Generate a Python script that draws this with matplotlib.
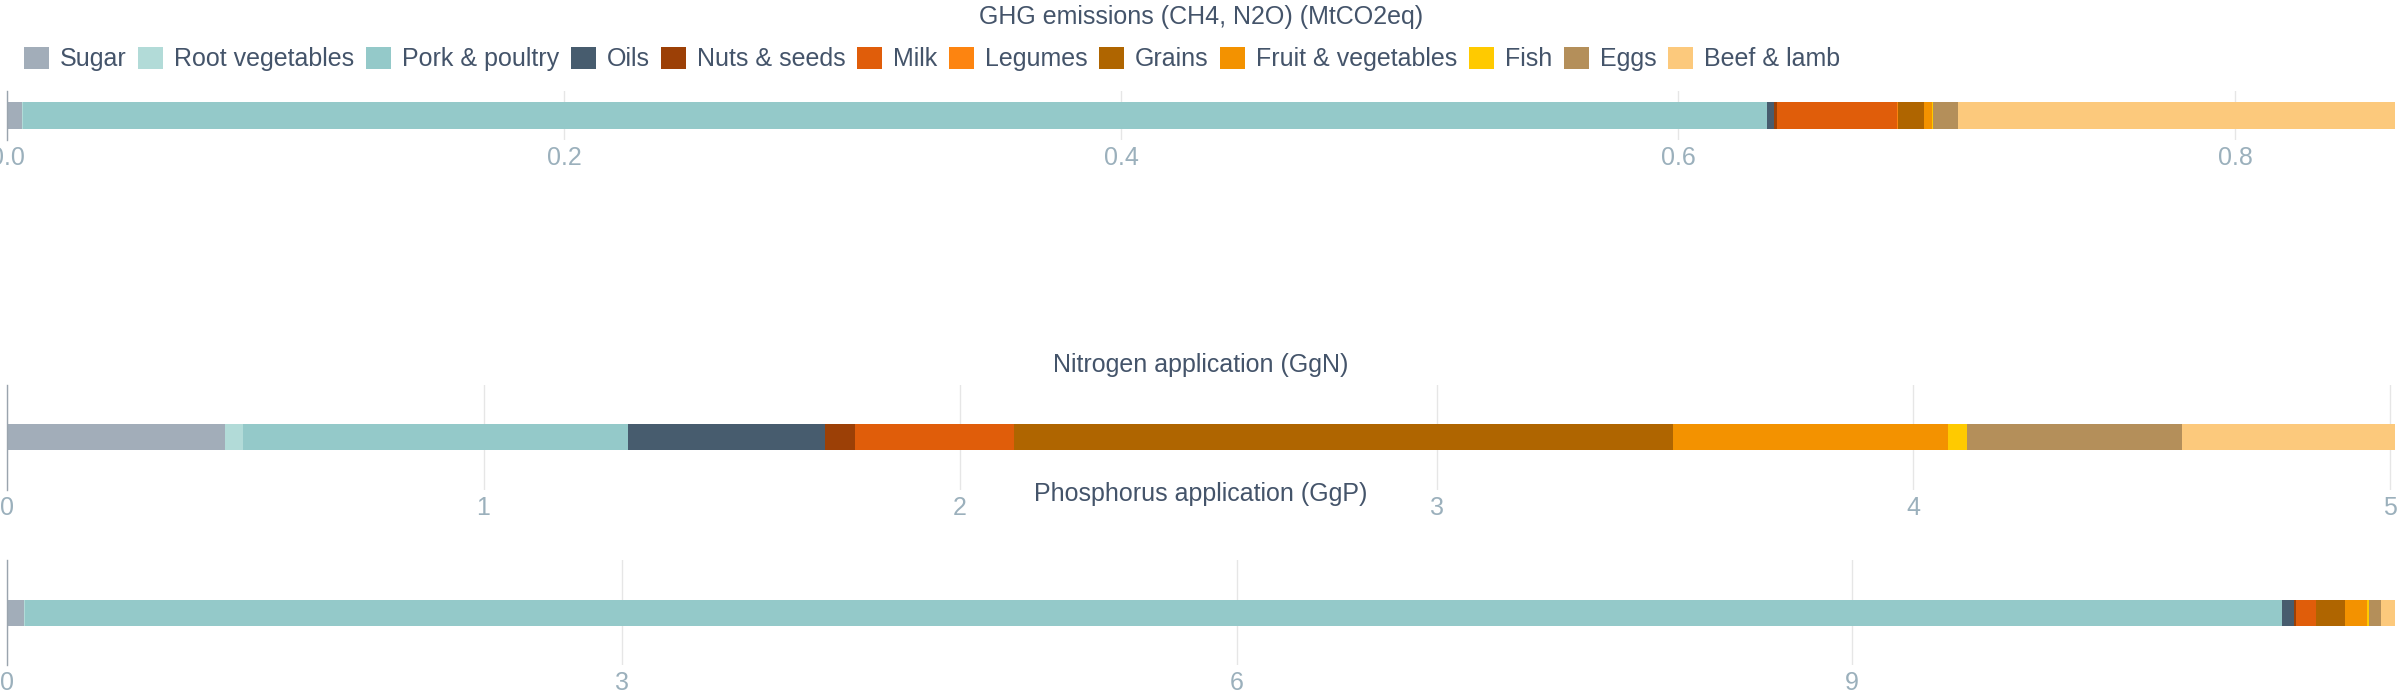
import matplotlib as mpl

mpl.use('Agg')

import matplotlib.pyplot as plt
from matplotlib.patches import Patch

plt.rcParams['font.family'] = ['Liberation Sans', 'DejaVu Sans']

categories = ['Sugar', 'Root vegetables', 'Pork & poultry', 'Oils', 'Nuts & seeds', 'Milk',
              'Legumes', 'Grains', 'Fruit & vegetables', 'Fish', 'Eggs', 'Beef & lamb']
colors = ['#a2adb9', '#b2dbd8', '#94c9c9', '#475c6e', '#9c4006', '#e05d0a',
          '#fd8410', '#af6500', '#f39200', '#ffca00', '#b48f5a', '#fcc97c']

ghg = [0.0054, 0.0004, 0.626, 0.0025, 0.0011, 0.0431, 0.0004, 0.0093, 0.0029, 0.0002, 0.009, 0.157]
nitrogen = [0.458, 0.037, 0.808, 0.413, 0.063, 0.335, 0.0, 1.382, 0.576, 0.041, 0.452, 0.446]
phosphorus = [0.085, 0.005, 11.008, 0.059, 0.010, 0.098, 0.0, 0.142, 0.107, 0.010, 0.059, 0.068]

panels = [
    ('GHG emissions (CH4, N2O) (MtCO2eq)', ghg, [0, 0.2, 0.4, 0.6, 0.8], ['0.0', '0.2', '0.4', '0.6', '0.8']),
    ('Nitrogen application (GgN)', nitrogen, [0, 1, 2, 3, 4, 5], ['0', '1', '2', '3', '4', '5']),
    ('Phosphorus application (GgP)', phosphorus, [0, 3, 6, 9], ['0', '3', '6', '9']),
]

W, H = 2400, 700
# (top, bottom) of each plot area in pixels, and title centre
boxes = [(91, 140), (385, 490), (560, 665)]
title_y = [17, 365, 494]
bar_px = 26

text_col = '#44546a'
tick_col = '#9bb0bc'
fs = 18

fig = plt.figure(figsize=(24, 7), dpi=100)

for (title, vals, ticks, labels), (top, bot), ty in zip(panels, boxes, title_y):
    ax = fig.add_axes([7 / W, 1 - bot / H, 2388 / W, (bot - top) / H])
    left = 0
    for v, c in zip(vals, colors):
        ax.barh(0, v, left=left, height=bar_px / (bot - top), color=c, linewidth=0)
        left += v
    ax.set_xlim(0, sum(vals))
    ax.set_ylim(-0.5, 0.5)
    ax.set_yticks([])
    ax.set_xticks(ticks)
    ax.set_xticklabels(labels)
    ax.tick_params(axis='x', length=0, pad=4, labelsize=fs, labelcolor=tick_col)
    ax.grid(axis='x', color='#e6e6e6', linewidth=1)
    ax.set_axisbelow(True)
    for s in ['top', 'right', 'bottom']:
        ax.spines[s].set_visible(False)
    ax.spines['left'].set_color('#9aa4ae')
    ax.spines['left'].set_linewidth(1)
    fig.text(1201 / W, 1 - ty / H, title, ha='center', va='center', fontsize=fs, color=text_col)

handles = [Patch(facecolor=c, edgecolor='none') for c in colors]
fig.legend(handles, categories, loc='center left', bbox_to_anchor=(24 / W, 1 - 59 / H),
           ncol=len(categories), frameon=False, fontsize=fs, labelcolor=text_col,
           handlelength=1.0, handleheight=1.0, handletextpad=0.45, columnspacing=0.45,
           borderaxespad=0, borderpad=0)

fig.savefig('out.png', dpi=100)
